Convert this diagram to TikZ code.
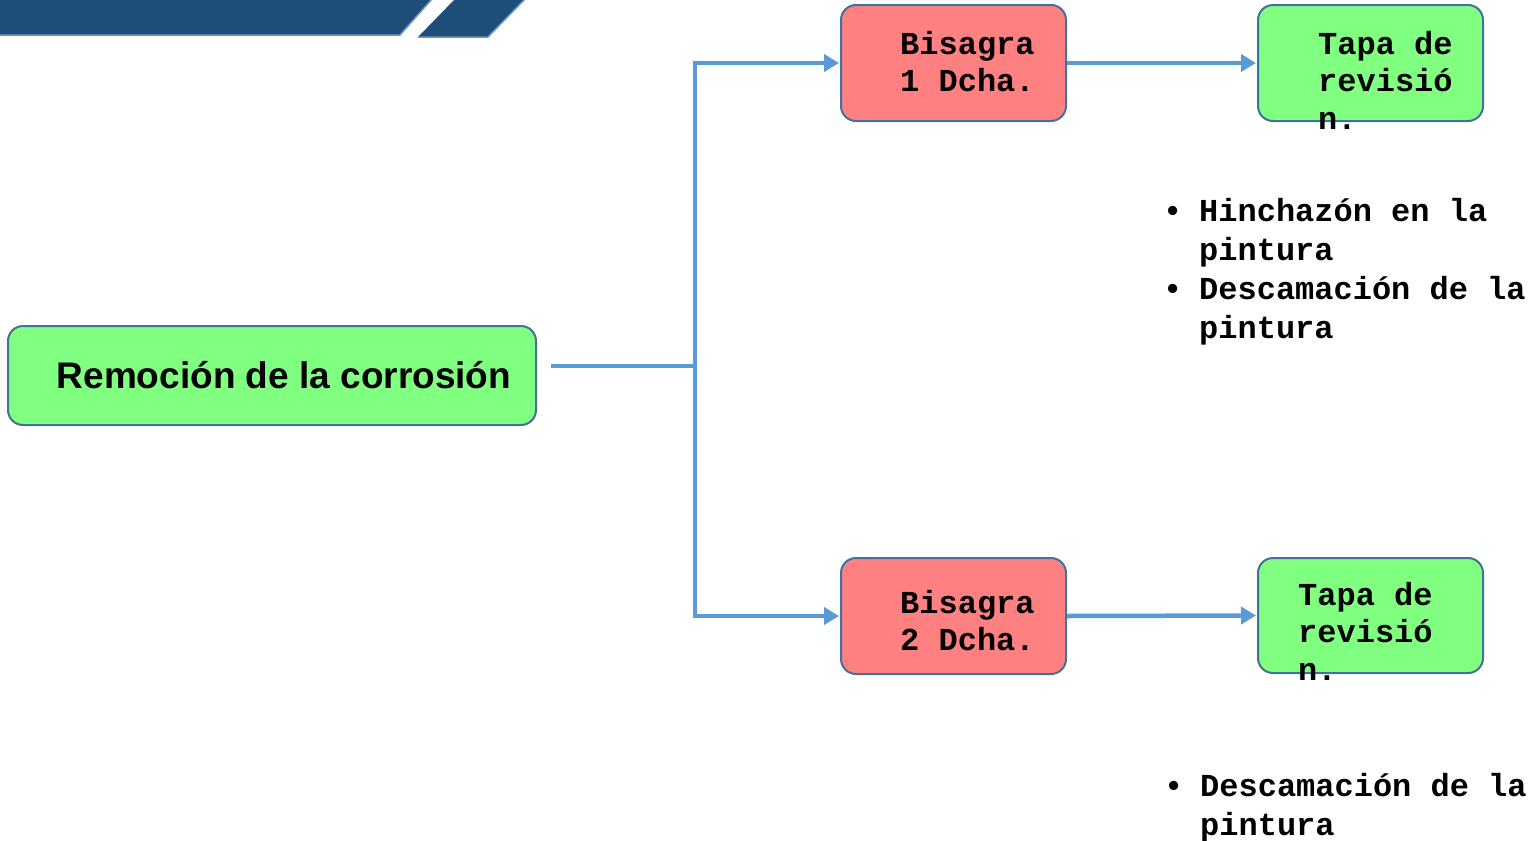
\documentclass[tikz,border=0pt]{standalone}
\usepackage{fontspec}
\setmainfont{Liberation Sans}
\newfontfamily\monof{Liberation Mono}
\usetikzlibrary{arrows.meta}
\definecolor{boxgreen}{RGB}{128,255,128}
\definecolor{boxred}{RGB}{255,128,128}
\definecolor{boxedge}{RGB}{65,113,156}
\definecolor{conncol}{RGB}{91,155,213}
\definecolor{banner}{RGB}{31,78,121}
\definecolor{banneredge}{RGB}{110,150,195}
\begin{document}
\begin{tikzpicture}[x=1pt,y=-1pt,
  stepbox/.style={draw=boxedge, line width=2pt, rounded corners=15pt, inner sep=0pt},
  monotxt/.style={font=\monof\bfseries\fontsize{32}{37.5}\selectfont, align=left, inner sep=0pt},
  listtxt/.style={font=\monof\bfseries\fontsize{32}{38.7}\selectfont, align=left, inner sep=0pt},
  conn/.style={draw=conncol, line width=4.5pt},
  arr/.style={conn, -{Triangle[length=15pt,width=17pt]}, shorten >=1pt}]
\useasboundingbox (0,0) rectangle (1535,841);
% banner
\fill[banner] (0,-1) -- (432,-1) -- (400,35) -- (0,35) -- cycle;
\draw[banneredge, line width=1.5pt] (0,35) -- (400,35) -- (432,-1);
\fill[banner] (455,-1) -- (525,-1) -- (488,37) -- (418,37) -- cycle;
\draw[banneredge, line width=1.5pt] (418,37) -- (488,37) -- (525,-1);
% main node
\node[stepbox, fill=boxgreen, minimum width=528pt, minimum height=99pt,
      font=\bfseries\fontsize{37}{40}\selectfont] (main) at (272,375.5)
      {\raisebox{2pt}{\hspace*{24pt}Remoción de la corrosión}};
% boxes
\node[stepbox, fill=boxred, minimum width=225pt, minimum height=116pt] (b1) at (953.5,63) {};
\node[stepbox, fill=boxred, minimum width=225pt, minimum height=116pt] (b2) at (953.5,616) {};
\node[stepbox, fill=boxgreen, minimum width=225pt, minimum height=116pt] (t1) at (1370.5,63) {};
\node[stepbox, fill=boxgreen, minimum width=225pt, minimum height=115pt] (t2) at (1370.5,615.5) {};
\node[monotxt, anchor=base west] (b1t) at (900,91.5) {Bisagra\\1 Dcha.};
\node[monotxt, anchor=base west] (b2t) at (900,650.5) {Bisagra\\2 Dcha.};
\node[monotxt, anchor=base west] (t1t) at (1318,129) {Tapa de\\revisió\\n.};
\node[monotxt, anchor=base west] (t2t) at (1298,680) {Tapa de\\revisió\\n.};
% bullet lists
\node[listtxt, anchor=base west] (l1) at (1199,338)
  {\llap{\fontspec{Liberation Sans}•\hspace{21pt}}Hinchazón en la\\pintura\\\llap{\fontspec{Liberation Sans}•\hspace{21pt}}Descamación de la\\pintura};
\node[listtxt, anchor=base west] (l2) at (1200,835)
  {\llap{\fontspec{Liberation Sans}•\hspace{21pt}}Descamación de la\\pintura};
% connectors
\coordinate (start) at (551,366);
\coordinate (j) at (695,366);
\draw[conn] (start) -- (j);
\draw[arr] (j) |- (b1.west);
\draw[arr] (j) |- (b2.west);
\draw[arr] (b1.east) -- (t1.west);
\draw[arr] (b2.east) -- (t2.west);
\end{tikzpicture}
\end{document}
